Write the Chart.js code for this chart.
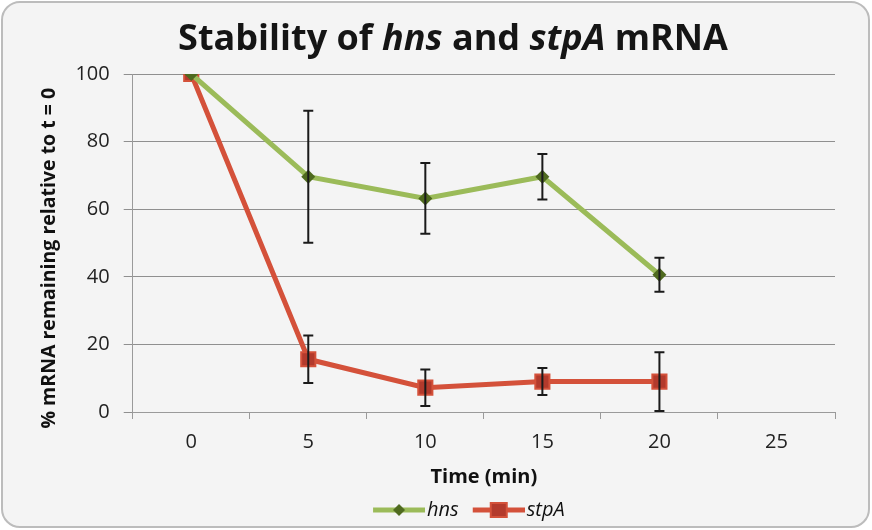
<!DOCTYPE html>
<html>
<head>
<meta charset="utf-8">
<script src="https://cdn.jsdelivr.net/npm/chart.js@4/dist/chart.umd.min.js"></script>
<style>
  html, body { margin: 0; padding: 0; background: #fff; }
  canvas { display: block; }
</style>
</head>
<body>
<canvas id="myChart" width="872" height="530"></canvas>
<script>
// x categories (minutes)
var times = ['0', '5', '10', '15', '20', '25'];
// % mRNA remaining
var hnsValues = [100, 69.6, 63.2, 69.6, 40.6];
var hnsErrors = [0, 19.5, 10.5, 6.7, 5.0];
var stpAValues = [100, 15.6, 7.2, 9.0, 9.0];
var stpAErrors = [0, 7.0, 5.4, 4.0, 8.7];
var yTicks = [0, 20, 40, 60, 80, 100];

var FONT = '"Open Sans", Lato, sans-serif';

// line + marker sample for the legend (left part transparent so the line runs up to the text)
function legendSwatch(lineColor, markColor, shape) {
    var c = document.createElement('canvas');
    c.width = 68; c.height = 18;
    var g = c.getContext('2d');
    g.strokeStyle = lineColor; g.lineWidth = 5;
    g.beginPath(); g.moveTo(16, 9); g.lineTo(68, 9); g.stroke();
    g.fillStyle = markColor;
    var m = 42;
    if (shape == 'diamond') {
        g.beginPath(); g.moveTo(m, 3); g.lineTo(m + 6, 9); g.lineTo(m, 15); g.lineTo(m - 6, 9); g.closePath(); g.fill();
    } else {
        g.strokeStyle = lineColor; g.lineWidth = 2;
        g.fillRect(m - 8, 2, 16, 14); g.strokeRect(m - 8, 2, 16, 14);
    }
    return c;
}

var frame = {
    id: 'frame',
    beforeDraw: function(chart) {
        var ctx = chart.ctx;
        ctx.save();
        ctx.fillStyle = '#ffffff';
        ctx.fillRect(0, 0, chart.width, chart.height);
        ctx.beginPath();
        ctx.roundRect(2, 2, chart.width - 5, chart.height - 5, 18);
        ctx.fillStyle = '#f4f4f4';
        ctx.fill();
        ctx.lineWidth = 2;
        ctx.strokeStyle = '#bcbcbc';
        ctx.stroke();
        ctx.restore();
    }
};

// nudge the legend so it sits where the original has it
var legendShift = {
    id: 'legendShift',
    afterLayout: function(chart) {
        chart.legend.left -= 19;
        chart.legend.right -= 19;
    }
};

var errorBars = {
    id: 'errorBars',
    afterDatasetsDraw: function(chart) {
        var ctx = chart.ctx;
        var x = chart.scales.x, y = chart.scales.y;
        var errs = [hnsErrors, stpAErrors];
        ctx.save();
        ctx.strokeStyle = '#1a1a1a';
        ctx.lineWidth = 2;
        chart.data.datasets.forEach(function(ds, i) {
            ds.data.forEach(function(v, j) {
                var e = errs[i][j];
                if (!e) return;
                var px = x.getPixelForValue(j);
                var top = y.getPixelForValue(v + e);
                var bot = y.getPixelForValue(Math.max(0, v - e));
                ctx.beginPath();
                ctx.moveTo(px, top); ctx.lineTo(px, bot);
                ctx.moveTo(px - 5, top); ctx.lineTo(px + 5, top);
                ctx.moveTo(px - 5, bot); ctx.lineTo(px + 5, bot);
                ctx.stroke();
            });
        });
        ctx.restore();
    }
};

var titlePlugin = {
    id: 'mixedTitle',
    afterDraw: function(chart) {
        var ctx = chart.ctx;
        var parts = [['Stability of ', ''], ['hns', 'italic '], [' and ', ''], ['stpA', 'italic '], [' mRNA', '']];
        ctx.save();
        ctx.fillStyle = '#151515';
        ctx.textBaseline = 'alphabetic';
        var total = 0;
        parts.forEach(function(p) {
            ctx.font = p[1] + 'bold 36px ' + FONT;
            total += ctx.measureText(p[0]).width;
        });
        var cx = 453 - total / 2;
        parts.forEach(function(p) {
            ctx.font = p[1] + 'bold 36px ' + FONT;
            ctx.fillText(p[0], cx, 50);
            cx += ctx.measureText(p[0]).width;
        });
        ctx.restore();
    }
};

var ctx = document.getElementById('myChart').getContext('2d');
var chart = new Chart(ctx, {
    type: 'line',
    data: {
        labels: times,
        datasets: [{
            label: 'hns',
            data: hnsValues,
            borderColor: '#9bbb59',
            backgroundColor: '#4f6a1f',
            borderWidth: 5,
            pointStyle: 'rectRot',
            pointRadius: 7,
            pointBorderWidth: 0,
            tension: 0
        }, {
            label: 'stpA',
            data: stpAValues,
            borderColor: '#d4513a',
            backgroundColor: '#b33a2c',
            borderWidth: 5,
            pointStyle: 'rect',
            pointRadius: 10,
            pointBorderColor: '#d4513a',
            pointBorderWidth: 2,
            tension: 0
        }]
    },
    options: {
        responsive: false,
        animation: false,
        layout: { padding: { top: 74, right: 37, left: 38, bottom: 0 } },
        plugins: {
            title: { display: false },
            tooltip: { enabled: false },
            legend: {
                position: 'bottom',
                fullSize: false,
                labels: {
                    usePointStyle: true,
                    pointStyleWidth: 52,
                    color: '#111',
                    font: { family: FONT, size: 20, style: 'italic' },
                    padding: 6,
                    generateLabels: function(chart) {
                        return [
                            { text: 'hns', pointStyle: legendSwatch('#9bbb59', '#4f6a1f', 'diamond'), datasetIndex: 0, fillStyle: 'transparent', strokeStyle: 'transparent', lineWidth: 0, fontColor: '#111' },
                            { text: 'stpA', pointStyle: legendSwatch('#d4513a', '#b33a2c', 'square'), datasetIndex: 1, fillStyle: 'transparent', strokeStyle: 'transparent', lineWidth: 0, fontColor: '#111' }
                        ];
                    }
                }
            }
        },
        scales: {
            x: {
                type: 'category',
                offset: true,
                grid: { offset: true, drawOnChartArea: false, drawTicks: true, tickLength: 7, color: '#9a9a9a', lineWidth: 1 },
                border: { color: '#9a9a9a', width: 1 },
                ticks: { color: '#222', font: { family: FONT, size: 20 }, padding: 11 },
                title: { display: true, text: 'Time (min)', color: '#111', font: { family: FONT, size: 20, weight: 'bold' }, padding: { top: 0, bottom: 5 } }
            },
            y: {
                min: 0, max: 100,
                afterBuildTicks: function(axis) { axis.ticks = yTicks.map(function(v) { return { value: v }; }); },
                grid: { color: '#8f8f8f', lineWidth: 1, tickLength: 9 },
                border: { color: '#9a9a9a', width: 1 },
                ticks: { color: '#222', font: { family: FONT, size: 20 }, padding: 14 },
                title: { display: true, text: '% mRNA remaining relative to t = 0\u00a0\u00a0\u00a0\u00a0\u00a0\u00a0', color: '#111', font: { family: FONT, size: 19.5, weight: 'bold' }, padding: { top: 0, bottom: 0 } }
            }
        }
    },
    plugins: [frame, legendShift, errorBars, titlePlugin]
});
</script>
</body>
</html>
